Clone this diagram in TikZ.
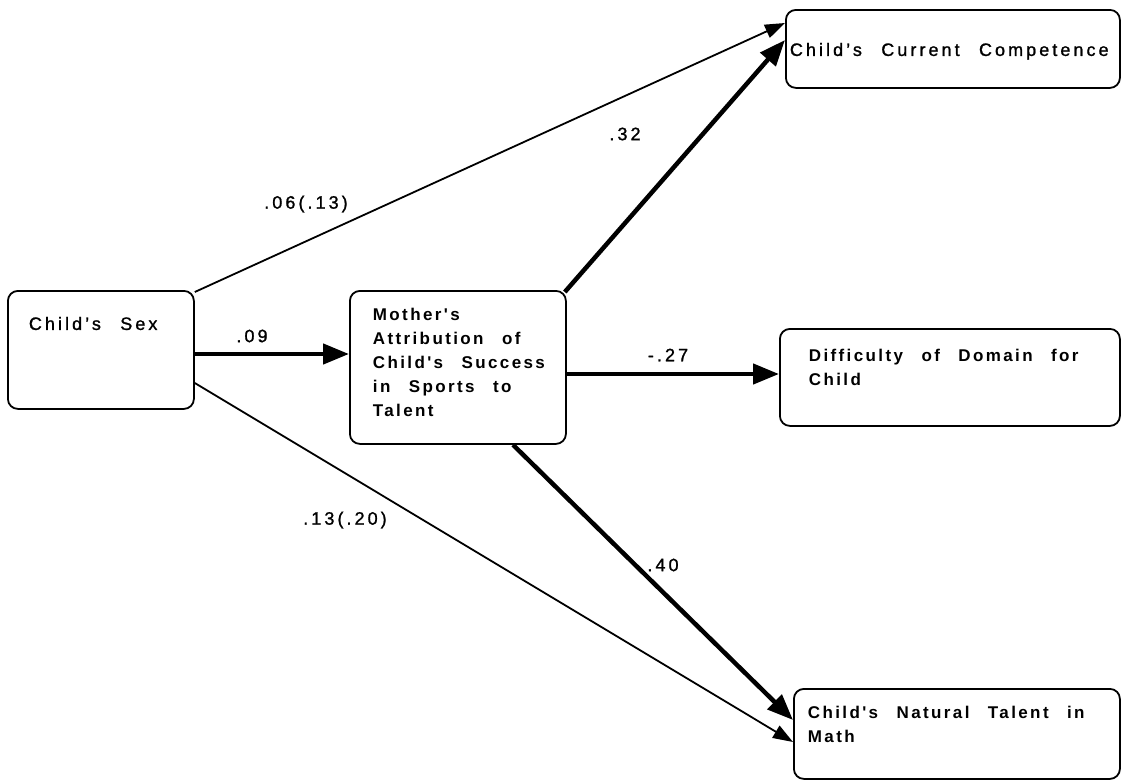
\documentclass[tikz,border=0pt]{standalone}
\usepackage{fontspec}
\setmainfont{Liberation Sans}[LetterSpace=17,WordSpace=2.4,FakeBold=1.2]
\newfontfamily\boldface{Liberation Sans Bold}[LetterSpace=14,WordSpace=2.6]
\usetikzlibrary{arrows.meta,calc}
\newcommand\bxtext[6]{\parbox[c][#2pt][t]{#1pt}{\raggedright\leftskip=#3pt\relax\vspace*{#4pt}#5 #6}}
\begin{document}
\begin{tikzpicture}[x=1pt,y=-1pt,
  box/.style={draw,line width=1.8pt,rounded corners=10pt,inner sep=0pt,anchor=north west},
  thinarrow/.style={line width=1.8pt,-{Triangle[length=20pt,width=14pt]}},
  thickarrow/.style={line width=4.5pt,-{Triangle[length=26pt,width=20pt]}},
  lbl/.style={font=\fontsize{18}{20}\selectfont,inner sep=1pt}]
\useasboundingbox (0,0) rectangle (1122,782);
\node[box] (sex) at (7,290) {\bxtext{186}{118}{21}{26}{\fontsize{18}{24}\selectfont}{Child's Sex}};
\node[box] (mother) at (349,290) {\bxtext{216}{153}{23}{17}{\fontsize{17}{24}\boldface}{Mother's\\Attribution of\\Child's Success\\in Sports to\\Talent}};
\node[box] (comp) at (785,9) {\bxtext{334}{78}{4}{33}{\fontsize{18}{24}\selectfont}{Child's Current Competence}};
\node[box] (diff) at (779,328) {\bxtext{340}{97}{29}{20}{\fontsize{17}{24}\boldface}{Difficulty of Domain for\\Child}};
\node[box] (nat) at (793,688) {\bxtext{326}{90}{14}{17}{\fontsize{17}{24}\boldface}{Child's Natural Talent in\\Math}};
\draw[thinarrow] ($(sex.north east)+(0,2)$) -- ($(comp.north west)+(0,14)$);
\draw[thickarrow] ($(sex.north east)+(0,64)$) -- ($(mother.north west)+(0,64)$);
\draw[thinarrow] ($(sex.north east)+(0,93)$) -- ($(nat.north west)+(0,54)$);
\draw[thickarrow] ($(mother.north east)+(-2,2)$) -- ($(comp.north west)+(0,31)$);
\draw[thickarrow] ($(mother.north east)+(0,84)$) -- ($(diff.north west)+(0,46)$);
\draw[thickarrow] ($(mother.south west)+(164,0)$) -- ($(nat.north west)+(0,32)$);
\node[lbl] (l1) at (306,204) {.06(.13)};
\node[lbl] (l2) at (625,134) {.32};
\node[lbl] (l3) at (252,336) {.09};
\node[lbl] (l4) at (668,355) {-.27};
\node[lbl] (l5) at (345,520) {.13(.20)};
\node[lbl] (l6) at (663,565) {.40};
\end{tikzpicture}
\end{document}
